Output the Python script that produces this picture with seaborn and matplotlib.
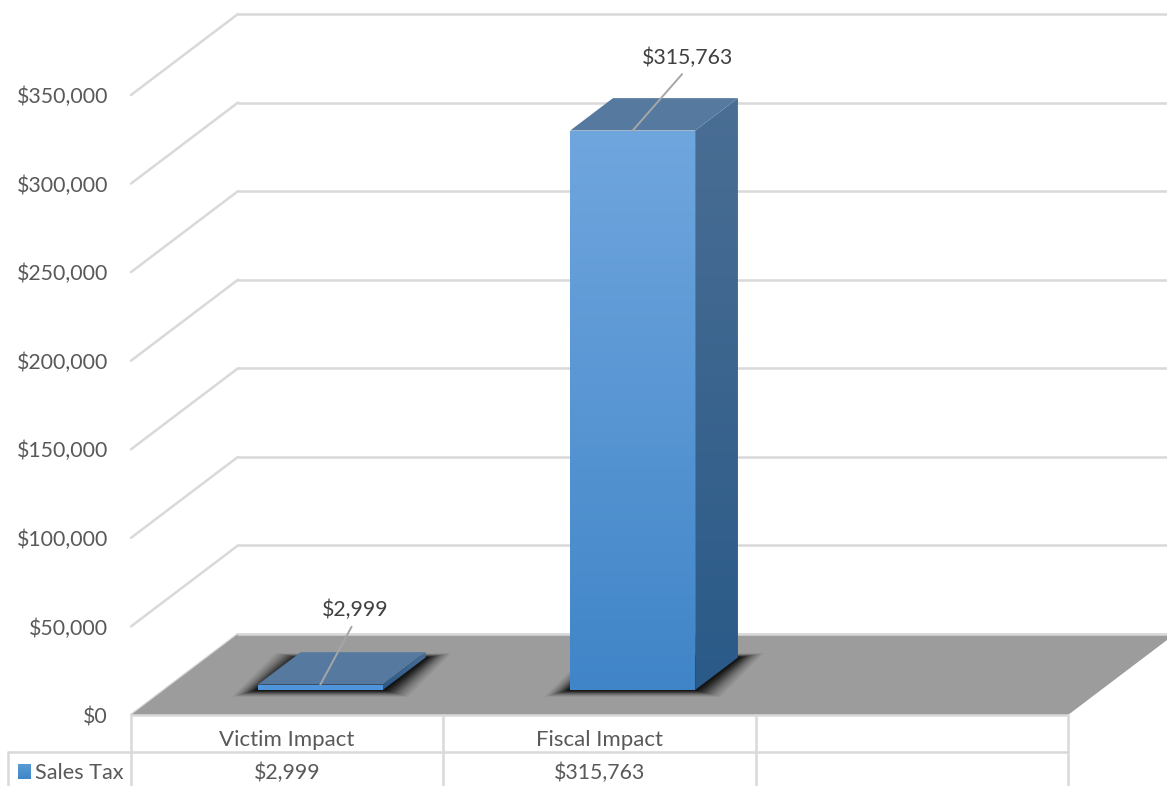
import numpy as np
import matplotlib
matplotlib.use("Agg")
import matplotlib.pyplot as plt
import matplotlib.transforms as mtransforms
from matplotlib.patches import Polygon, Rectangle
import seaborn as sns

categories = ["Victim Impact", "Fiscal Impact", ""]
sales_tax = [2999, 315763, np.nan]
table_values = ["$2,999", "$315,763", ""]
series_name = "Sales Tax"
y_ticks = [0, 50000, 100000, 150000, 200000, 250000, 300000, 350000]

W, H = 1167, 786
DEPTH_X, DEPTH_Y = 107, 81
FRONT, BACK = 0.31, 0.71
GRID = "#d9d9d9"
TEXT = "#595959"
FS = 15.3

sns.set_theme(style="white")
plt.rcParams["font.family"] = ["Lato", "DejaVu Sans"]

fig = plt.figure(figsize=(W / 100, H / 100), dpi=100)
ax = fig.add_axes([131 / W, 1 - 715 / H, (1068 - 131) / W, (715 - 95) / H])
sns.barplot(x=categories, y=sales_tax, width=0.4, color="#4a90d2", saturation=1, ax=ax, zorder=5)
bars = [b for b in ax.patches if isinstance(b, Rectangle) and b.get_height() > 0]
ax.set_xlim(-0.5, 2.5)
ax.set_ylim(0, 350000)
ax.set_yticks(y_ticks)
ax.set_yticklabels([f"${v:,}" for v in y_ticks])
ax.tick_params(axis="y", length=0, pad=16.5, labelsize=FS, labelcolor=TEXT)
ax.tick_params(axis="x", length=0, pad=10.5, labelsize=16, labelcolor=TEXT)
sns.despine(ax=ax, left=True, bottom=True)
ax.patch.set_alpha(0)


def pt(x, y, f=0.0):
    # data value -> screen pixel, pushed back by f of the chart's depth
    px, py = ax.transData.transform((x, y))
    return px + f * DEPTH_X, py + f * DEPTH_Y


def face(points, z, **kw):
    p = Polygon(points, closed=True, transform=mtransforms.IdentityTransform(),
                clip_on=False, zorder=z, linewidth=0, **kw)
    ax.add_patch(p)
    return p


def gradient(points, top, bottom, z):
    # vertical gradient clipped to a polygon given in pixels
    clip = face(points, z, facecolor="none")
    pts = np.array(points)
    c0 = np.array(matplotlib.colors.to_rgb(top))
    c1 = np.array(matplotlib.colors.to_rgb(bottom))
    t = np.linspace(0, 1, 256)[:, None, None]
    img = c0[None, None, :] * (1 - t) + c1[None, None, :] * t
    im = ax.imshow(img, aspect="auto", origin="upper", zorder=z, interpolation="bilinear",
                   extent=(pts[:, 0].min(), pts[:, 0].max(), pts[:, 1].min(), pts[:, 1].max()),
                   transform=mtransforms.IdentityTransform())
    im.set_clip_box(fig.bbox)
    im.set_clip_path(clip)
    return im


# walls: side and back gridlines
x_left, x_right = -0.5, 2.5
for v in y_ticks:
    a = pt(x_left, v)
    b = pt(x_left, v, 1)
    ax.plot([a[0], b[0]], [a[1], b[1]], color=GRID, lw=1.8, clip_on=False, zorder=1,
            transform=mtransforms.IdentityTransform())
    ax.plot([b[0], W], [b[1], b[1]], color=GRID, lw=1.8, clip_on=False, zorder=1,
            transform=mtransforms.IdentityTransform())

# floor
face([pt(x_left, 0), pt(x_right, 0), pt(x_right, 0, 1), pt(x_left, 0, 1)], 2, facecolor="#9c9c9c")
floor_back = pt(x_left, 0, 1)
ax.plot([floor_back[0], W], [floor_back[1], floor_back[1]], color=GRID, lw=1.8, clip_on=False, zorder=2,
        transform=mtransforms.IdentityTransform())

# bars: seaborn's patches give the front face, the rest is built from them
for bar in bars:
    x0, x1 = bar.get_x(), bar.get_x() + bar.get_width()
    h = bar.get_height()
    bar.set_visible(False)

    # soft shadow on the floor, stacked from the outside in
    fl, fr = pt(x0, 0, FRONT), pt(x1, 0, FRONT)
    br, bl = pt(x1, 0, BACK), pt(x0, 0, BACK)
    for e in np.linspace(1, 0, 28):
        ex, ey = 2 + 24 * e, 0.5 + 6.5 * e
        face([(fl[0] - ex, fl[1] - ey), (fr[0] + ex, fr[1] - ey),
              (br[0] + ex, br[1] + ey * 0.6), (bl[0] - ex, bl[1] + ey * 0.6)],
             3, facecolor="black", alpha=0.02 + 0.13 * (1 - e) ** 2)

    tall = h > 50000
    gradient([pt(x0, h, FRONT), pt(x1, h, FRONT), pt(x1, 0, FRONT), pt(x0, 0, FRONT)],
             "#70a6de" if tall else "#5198de", "#4085c8" if tall else "#4c93d8", 7)
    gradient([pt(x1, h, FRONT), pt(x1, h, BACK), pt(x1, 0, BACK), pt(x1, 0, FRONT)],
             "#4a6e94", "#2a5a88", 6)
    face([pt(x0, h, FRONT), pt(x1, h, FRONT), pt(x1, h, BACK), pt(x0, h, BACK)], 6, facecolor="#55799f")

    ax.annotate(f"${h:,.0f}", xy=pt((x0 + x1) / 2, h, FRONT), xycoords="figure pixels",
                xytext=(55 if tall else 35, 73 if tall else 75), textcoords="offset pixels",
                ha="center", va="center", fontsize=FS, color="#404040", zorder=9,
                arrowprops=dict(arrowstyle="-", color="#a6a6a6", lw=1.4, relpos=(0.5, 0),
                                shrinkA=3, shrinkB=0))

# data table under the chart
y_row = 1 - 752 / H
y_bot = 0
y_top = 1 - 715 / H
y_text = 1 - 773 / H
tr = mtransforms.blended_transform_factory(ax.transData, fig.transFigure)
for x in [-0.5, 0.5, 1.5, 2.5]:
    ax.plot([x, x], [y_bot, y_top], color=GRID, lw=1.8, clip_on=False, transform=tr, zorder=2)
ax.plot([-0.5, 2.5], [y_top, y_top], color=GRID, lw=1.8, clip_on=False, transform=tr, zorder=2)
ax.plot([-0.5, 2.5], [y_row, y_row], color=GRID, lw=1.8, clip_on=False, transform=tr, zorder=2)
fig.add_artist(plt.Line2D([8 / W, 131 / W], [y_row, y_row], color=GRID, lw=1.8))
fig.add_artist(plt.Line2D([8 / W, 8 / W], [0, y_row], color=GRID, lw=1.8))
for i, s in enumerate(table_values):
    ax.text(i, y_text, s, transform=tr, ha="center", va="center", fontsize=FS, color=TEXT)
fig.text(35 / W, y_text, series_name, ha="left", va="center", fontsize=15.6, color=TEXT)
gradient([(18, H - 764), (31, H - 764), (31, H - 779), (18, H - 779)], "#5b9bd5", "#4085c8", 8)

ax.set_xlim(-0.5, 2.5)
ax.set_ylim(0, 350000)
fig.savefig("out.png", dpi=100)
